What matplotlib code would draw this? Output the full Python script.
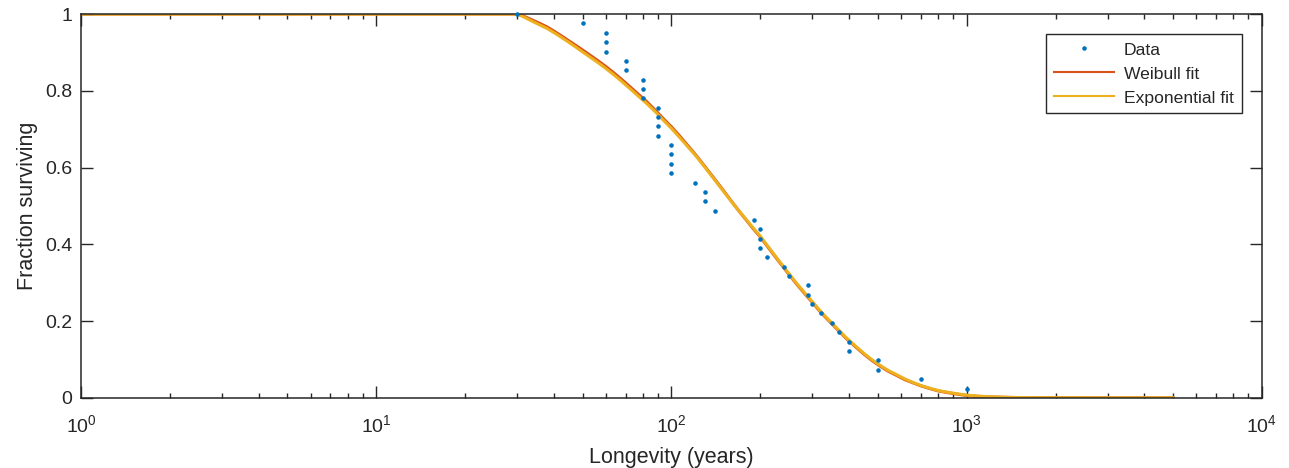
"""
plot.py - survival curve: fraction of trees surviving vs longevity, with
Weibull and exponential fits. Saves out.png.
"""

import matplotlib
matplotlib.use("Agg")
import matplotlib.pyplot as plt
from matplotlib.ticker import LogLocator, NullFormatter

plt.rcParams["font.family"] = ["Liberation Sans", "DejaVu Sans"]

# observed longevities (years) and fraction still surviving
years = [30, 50, 60, 60, 60, 70, 70, 80, 80, 80, 90, 90, 90, 90,
         100, 100, 100, 100, 120, 130, 130, 140, 190, 200, 200, 200,
         210, 240, 250, 290, 290, 300, 320, 350, 370, 400, 400, 500,
         500, 700, 1000]
surv = [1.000, 0.976, 0.951, 0.927, 0.902, 0.878, 0.854, 0.829, 0.805,
        0.780, 0.756, 0.732, 0.707, 0.683, 0.659, 0.634, 0.610, 0.585,
        0.561, 0.537, 0.512, 0.488, 0.463, 0.439, 0.415, 0.390, 0.366,
        0.341, 0.317, 0.293, 0.268, 0.244, 0.220, 0.195, 0.171, 0.146,
        0.122, 0.098, 0.073, 0.049, 0.024]

# fitted curves
fit_t = [1, 30, 31.5, 33, 35.5, 38, 40.5, 43, 46, 49, 52.5, 56, 60, 63.5,
         67.5, 72, 77, 82.4, 88, 94, 100, 106.7, 114, 122, 130, 138.4, 148,
         157.6, 168, 178, 189, 200, 216, 233, 248, 265, 283, 302, 322, 345,
         367, 391.5, 420, 450, 478, 508, 543, 580, 618, 658, 700, 750, 800,
         854, 920, 998, 1100, 1200, 1350, 1500, 1750, 2000, 3000, 5000]
weib_fit = [1.0, 1.0, 0.995, 0.988, 0.977, 0.966, 0.953, 0.940, 0.925,
            0.911, 0.895, 0.880, 0.863, 0.848, 0.831, 0.812, 0.792, 0.772,
            0.750, 0.727, 0.706, 0.682, 0.656, 0.629, 0.602, 0.575, 0.546,
            0.518, 0.490, 0.466, 0.441, 0.419, 0.385, 0.352, 0.325, 0.297,
            0.271, 0.246, 0.221, 0.197, 0.176, 0.154, 0.133, 0.113, 0.097,
            0.083, 0.069, 0.058, 0.047, 0.039, 0.031, 0.024, 0.018, 0.014,
            0.010, 0.006, 0.0038, 0.0024, 0.0012, 0.0006, 0.0002, 0.0001,
            0.0, 0.0]
expo_fit = [1.0, 1.0, 0.993, 0.985, 0.973, 0.962, 0.949, 0.936, 0.921,
            0.906, 0.890, 0.875, 0.858, 0.843, 0.826, 0.807, 0.787, 0.767,
            0.746, 0.723, 0.702, 0.678, 0.653, 0.627, 0.600, 0.573, 0.544,
            0.517, 0.490, 0.467, 0.443, 0.421, 0.387, 0.354, 0.327, 0.299,
            0.273, 0.248, 0.223, 0.199, 0.178, 0.156, 0.135, 0.115, 0.099,
            0.085, 0.071, 0.060, 0.049, 0.040, 0.032, 0.025, 0.019, 0.015,
            0.011, 0.007, 0.0042, 0.0027, 0.0014, 0.0007, 0.0002, 0.0001,
            0.0, 0.0]

ink = "#262626"

fig = plt.figure(figsize=(12.89, 4.68), dpi=100)
ax = fig.add_axes([0.0628, 0.150, 0.9162, 0.820])

ax.plot(years, surv, ".", color="#0072BD", markersize=4.5, label="Data",
        clip_on=False, zorder=4)
ax.plot(fit_t, weib_fit, "-", color="#D95319", lw=2.2, label="Weibull fit")
ax.plot(fit_t, expo_fit, "-", color="#EDB120", lw=2.2, label="Exponential fit")

ax.set_xscale("log")
ax.set_xlim(1, 1e4)
ax.set_ylim(0, 1)
ax.set_yticks([0, 0.2, 0.4, 0.6, 0.8, 1])
ax.set_yticklabels(["0", "0.2", "0.4", "0.6", "0.8", "1"])
ax.xaxis.set_minor_locator(LogLocator(base=10, subs=range(2, 10), numticks=20))
ax.xaxis.set_minor_formatter(NullFormatter())

ax.tick_params(which="both", direction="in", top=True, right=True,
               colors=ink, labelsize=14, width=1.0)
ax.tick_params(which="major", length=8.4)
ax.tick_params(axis="x", which="major", pad=12)
ax.tick_params(axis="y", which="major", pad=6)
ax.tick_params(which="minor", length=3.8)
for s in ax.spines.values():
    s.set_color(ink)
    s.set_linewidth(1.1)

ax.set_xlabel("Longevity (years)", fontsize=15.5, color=ink, labelpad=8)
ax.set_ylabel("Fraction surviving", fontsize=15.5, color=ink, labelpad=5)

leg = ax.legend(loc="upper right", bbox_to_anchor=(0.983, 0.947),
                borderaxespad=0, fontsize=12.6, frameon=True, fancybox=False,
                handlelength=3.4, labelspacing=0.5, borderpad=0.45,
                handletextpad=0.6)
leg.get_frame().set_edgecolor(ink)
leg.get_frame().set_linewidth(1.0)
leg.get_frame().set_alpha(1)
for t in leg.get_texts():
    t.set_color(ink)
for h in leg.get_lines():
    h.set_linewidth(1.5)

fig.savefig("out.png", dpi=100)
